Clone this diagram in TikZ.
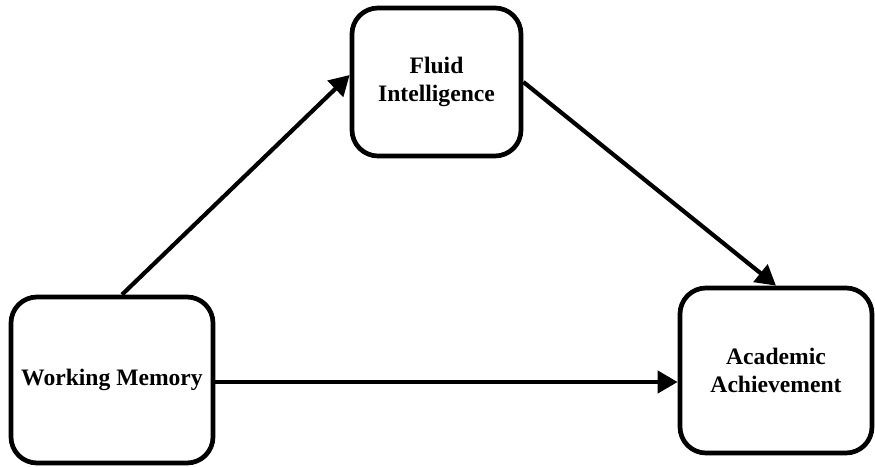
\documentclass[tikz,border=0pt]{standalone}
\usepackage{fontspec}
\setmainfont{Liberation Serif}
\usetikzlibrary{arrows.meta,calc}
\begin{document}
\begin{tikzpicture}[x=1pt,y=1pt,
  box/.style={draw=black,line width=4.7pt,rounded corners=26pt,fill=white,align=center,
    font=\fontsize{23.6}{28.5}\selectfont\bfseries,inner sep=0pt},
  conn/.style={line width=4.2pt,-{Triangle[length=20pt,width=22pt]}}]
\useasboundingbox (0,0) rectangle (875,466);
\node[box,minimum width=202pt,minimum height=166pt] (wm) at (112,86) {Working Memory};
\node[box,minimum width=169pt,minimum height=148pt] (fi) at (436.5,384) {Fluid\\Intelligence};
\node[box,minimum width=192pt,minimum height=165pt] (aa) at (776,95.5) {Academic\\Achievement};
\draw[conn] ([xshift=10pt]wm.north) -- ([yshift=7pt]fi.west);
\draw[conn] (fi.east) -- (aa.north);
\draw[conn] ([yshift=-2pt]wm.east) -- ([yshift=-2pt]wm.east -| aa.west);
\end{tikzpicture}
\end{document}
